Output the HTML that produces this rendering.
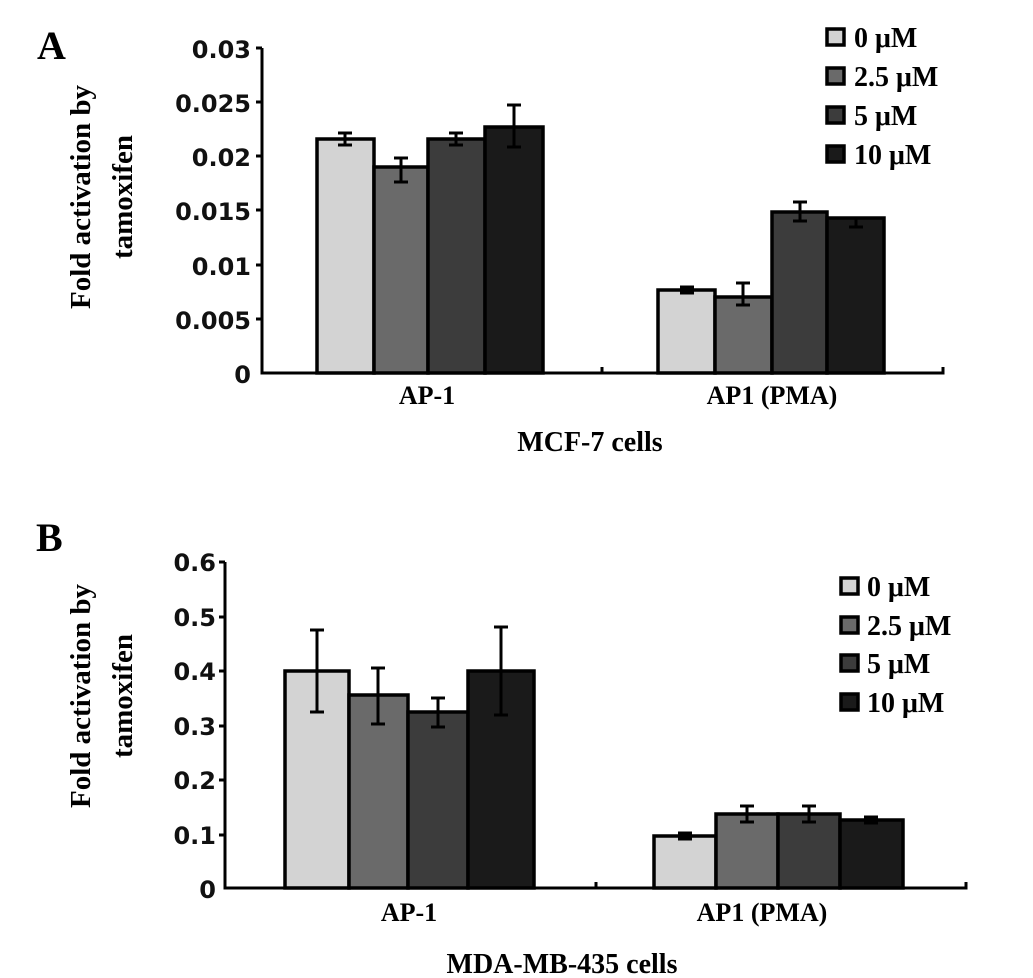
<!DOCTYPE html>
<html><head><meta charset="utf-8"><style>html,body{margin:0;padding:0;background:#fff}</style></head><body>
<svg width="1033" height="978" xmlns="http://www.w3.org/2000/svg" style="display:block">
<g font-family="Liberation Serif, serif" font-weight="bold" fill="#000">
<text x="37" y="59" font-size="40">A</text>
<text x="36" y="551" font-size="40">B</text>
<text transform="translate(90,197) rotate(-90)" text-anchor="middle" font-size="29">Fold activation by</text>
<text transform="translate(132,197) rotate(-90)" text-anchor="middle" font-size="29">tamoxifen</text>
<text transform="translate(90,696) rotate(-90)" text-anchor="middle" font-size="29">Fold activation by</text>
<text transform="translate(132,696) rotate(-90)" text-anchor="middle" font-size="29">tamoxifen</text>
<text x="427" y="404" text-anchor="middle" font-size="26">AP-1</text>
<text x="772" y="404" text-anchor="middle" font-size="26">AP1 (PMA)</text>
<text x="590" y="451" text-anchor="middle" font-size="28">MCF-7 cells</text>
<text x="409" y="921" text-anchor="middle" font-size="26">AP-1</text>
<text x="762" y="921" text-anchor="middle" font-size="26">AP1 (PMA)</text>
<text x="562" y="973" text-anchor="middle" font-size="28">MDA-MB-435 cells</text>
<g font-size="28">
<text x="854" y="47">0 μM</text><text x="854" y="86">2.5 μM</text><text x="854" y="125">5 μM</text><text x="854" y="164">10 μM</text>
<text x="867" y="596">0 μM</text><text x="867" y="635">2.5 μM</text><text x="867" y="673">5 μM</text><text x="867" y="712">10 μM</text>
</g>
</g>
<g font-family="DejaVu Sans, sans-serif" font-weight="bold" font-size="24" fill="#111" text-anchor="end">
<text x="251" y="58">0.03</text><text x="251" y="112">0.025</text><text x="251" y="166">0.02</text><text x="251" y="220">0.015</text><text x="251" y="275">0.01</text><text x="251" y="329">0.005</text><text x="251" y="383">0</text>
<text x="216" y="571">0.6</text><text x="216" y="626">0.5</text><text x="216" y="680">0.4</text><text x="216" y="735">0.3</text><text x="216" y="789">0.2</text><text x="216" y="844">0.1</text><text x="216" y="898">0</text>
</g>
<g stroke="#000" stroke-width="3" fill="none">
<path d="M262 48 V373 H943 V367 M602 373 V367"/>
<path d="M256 48H262M256 102H262M256 156H262M256 210H262M256 265H262M256 319H262"/>
<path d="M225 562 V888 H966 V882 M596 888 V882"/>
<path d="M219 562H225M219 617H225M219 671H225M219 726H225M219 780H225M219 835H225"/>
</g>
<g stroke="#000" stroke-width="3.5">
<rect x="317" y="139" width="57" height="234" fill="#d3d3d3"/>
<rect x="374" y="167" width="54" height="206" fill="#6a6a6a"/>
<rect x="428" y="139" width="57" height="234" fill="#3c3c3c"/>
<rect x="485" y="127" width="58" height="246" fill="#1a1a1a"/>
<rect x="658" y="290" width="57" height="83" fill="#d3d3d3"/>
<rect x="715" y="297" width="57" height="76" fill="#6a6a6a"/>
<rect x="772" y="212" width="55" height="161" fill="#3c3c3c"/>
<rect x="827" y="218" width="57" height="155" fill="#1a1a1a"/>
<rect x="285" y="671" width="64" height="217" fill="#d3d3d3"/>
<rect x="349" y="695" width="59" height="193" fill="#6a6a6a"/>
<rect x="408" y="712" width="60" height="176" fill="#3c3c3c"/>
<rect x="468" y="671" width="66" height="217" fill="#1a1a1a"/>
<rect x="654" y="836" width="62" height="52" fill="#d3d3d3"/>
<rect x="716" y="814" width="62" height="74" fill="#6a6a6a"/>
<rect x="778" y="814" width="62" height="74" fill="#3c3c3c"/>
<rect x="840" y="820" width="63" height="68" fill="#1a1a1a"/>
<rect x="827" y="29" width="17" height="16" fill="#d3d3d3"/>
<rect x="827" y="68" width="17" height="16" fill="#6a6a6a"/>
<rect x="827" y="107" width="17" height="16" fill="#3c3c3c"/>
<rect x="827" y="146" width="17" height="16" fill="#1a1a1a"/>
<rect x="841" y="578" width="17" height="16" fill="#d3d3d3"/>
<rect x="841" y="617" width="17" height="16" fill="#6a6a6a"/>
<rect x="841" y="655" width="17" height="16" fill="#3c3c3c"/>
<rect x="841" y="694" width="17" height="16" fill="#1a1a1a"/>
</g>
<g stroke="#000" stroke-width="3" fill="none">
<path d="M345 133V145M338 133H352M338 145H352"/>
<path d="M401 158V182M394 158H408M394 182H408"/>
<path d="M456 133V145M449 133H463M449 145H463"/>
<path d="M514 105V147M507 105H521M507 147H521"/>
<path d="M687 287V293M680 287H694M680 293H694"/>
<path d="M743 283V305M736 283H750M736 305H750"/>
<path d="M800 202V221M793 202H807M793 221H807"/>
<path d="M856 217V227M849 227H863"/>
<path d="M317 630V712M310 630H324M310 712H324"/>
<path d="M378 668V724M371 668H385M371 724H385"/>
<path d="M438 698V727M431 698H445M431 727H445"/>
<path d="M501 627V715M494 627H508M494 715H508"/>
<path d="M685 833V839M678 833H692M678 839H692"/>
<path d="M747 806V822M740 806H754M740 822H754"/>
<path d="M809 806V822M802 806H816M802 822H816"/>
<path d="M871 817V823M864 817H878M864 823H878"/>
</g>
</svg>
</body></html>
